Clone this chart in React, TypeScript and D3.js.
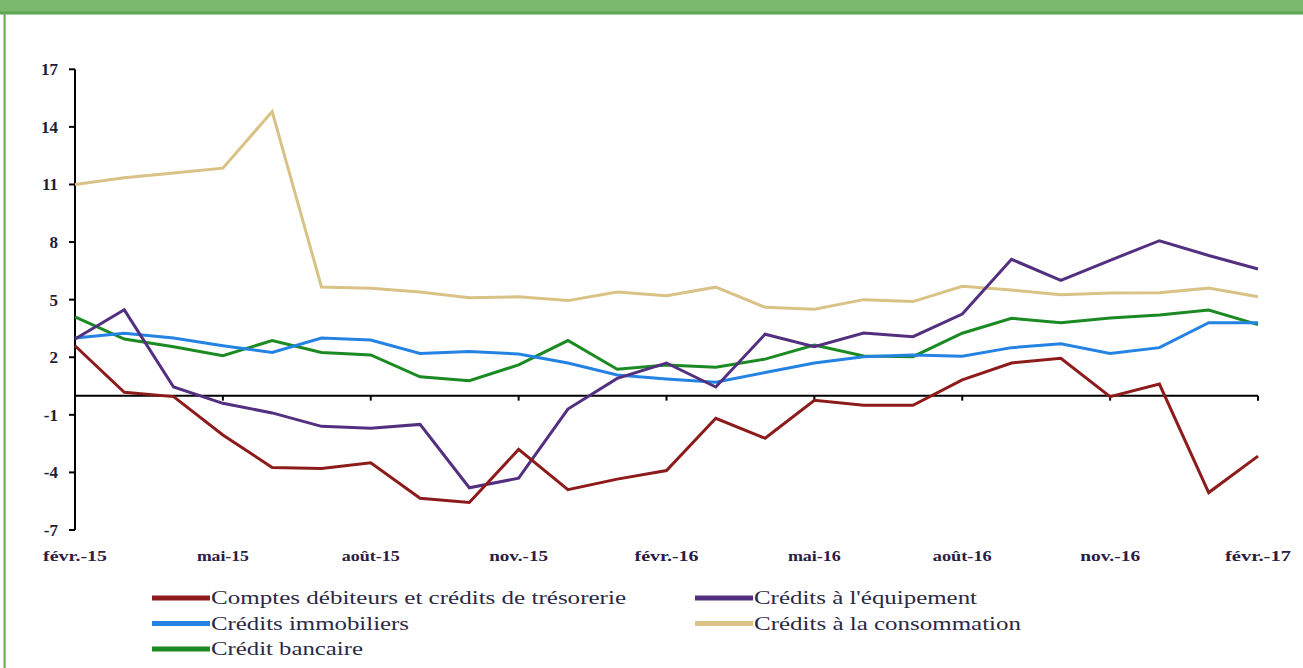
import React from "react";
import * as d3 from "d3";

const months = [
  "févr.-15","mars-15","avr.-15","mai-15","juin-15","juil.-15","août-15","sept.-15","oct.-15","nov.-15","déc.-15","janv.-16",
  "févr.-16","mars-16","avr.-16","mai-16","juin-16","juil.-16","août-16","sept.-16","oct.-16","nov.-16","déc.-16","janv.-17","févr.-17",
];
const yTicks = [-7, -4, -1, 2, 5, 8, 11, 14, 17];

const comptes = [2.6,0.17,-0.05,-2.05,-3.74,-3.8,-3.5,-5.35,-5.57,-2.8,-4.9,-4.35,-3.9,-1.18,-2.22,-0.24,-0.5,-0.5,0.82,1.7,1.95,-0.05,0.6,-5.05,-3.15];
const equipement = [2.95,4.47,0.45,-0.4,-0.9,-1.6,-1.7,-1.5,-4.8,-4.3,-0.7,0.9,1.7,0.45,3.2,2.55,3.26,3.07,4.25,7.1,6.0,7.05,8.07,7.3,6.6];
const immobiliers = [3.0,3.25,3.0,2.6,2.25,3.0,2.9,2.2,2.3,2.17,1.7,1.08,0.87,0.7,1.2,1.7,2.03,2.12,2.05,2.5,2.7,2.2,2.5,3.8,3.8];
const consommation = [11.0,11.35,11.6,11.85,14.8,5.66,5.6,5.4,5.1,5.15,4.95,5.4,5.2,5.65,4.6,4.5,5.0,4.9,5.7,5.5,5.25,5.35,5.36,5.6,5.15];
const bancaire = [4.1,2.95,2.55,2.08,2.87,2.25,2.12,0.98,0.78,1.6,2.87,1.37,1.6,1.48,1.9,2.64,2.07,2.03,3.25,4.03,3.8,4.05,4.2,4.46,3.7];

const series = [
  { name: "Comptes débiteurs et crédits de trésorerie", values: comptes, color: "#8e1b1b" },
  { name: "Crédits à l'équipement", values: equipement, color: "#53307f" },
  { name: "Crédits immobiliers", values: immobiliers, color: "#2483e2" },
  { name: "Crédits à la consommation", values: consommation, color: "#d8c286" },
  { name: "Crédit bancaire", values: bancaire, color: "#1b8a22" },
];
const drawOrder = [3, 4, 2, 1, 0];
const legendPos = [
  { col: 0, row: 0, w: 415 }, { col: 1, row: 0, w: 223 }, { col: 0, row: 1, w: 198 }, { col: 1, row: 1, w: 267 }, { col: 0, row: 2, w: 152 },
];
const monthLabelWidths: Record<string, number> = {
  "févr.-15": 64, "mai-15": 52, "août-15": 58, "nov.-15": 59, "févr.-16": 64, "mai-16": 53, "août-16": 59, "nov.-16": 60, "févr.-17": 66,
};

export default function App() {
  const W = 1303, H = 668;
  const x = d3.scaleLinear().domain([0, months.length - 1]).range([75, 1258]);
  const y = d3.scaleLinear().domain([-7, 17]).range([530, 69.3]);
  const line = d3.line<number>().x((_, i) => x(i)).y((v) => y(v));
  const font = '"Liberation Serif", "Times New Roman", Times, "DejaVu Serif", serif';
  const x0 = 75;
  const y0 = y(0);
  return (
    <svg width={W} height={H} style={{ position: "absolute", left: 0, top: 0, background: "#fff" }}>
      <rect x={0} y={0} width={W} height={H} fill="#fff" />
      <rect x={0} y={0} width={W} height={12} fill="#7bba6e" />
      <rect x={0} y={11.5} width={W} height={3} fill="#5ea452" />
      <rect x={3.5} y={13} width={2.2} height={H - 13} fill="#6cae60" />
      <line x1={x0} x2={x0} y1={y(17)} y2={y(-7)} stroke="#000" strokeWidth={2} />
      {yTicks.map((t) => (
        <g key={t}>
          <line x1={x0 - 6} x2={x0} y1={y(t)} y2={y(t)} stroke="#000" strokeWidth={2} />
          <text x={58} y={y(t)} dy="0.35em" textAnchor="end" style={{ fontFamily: font }} fontSize={17} fontWeight="bold" fill="#1e1e3c">
            {t}
          </text>
        </g>
      ))}
      <line x1={x0} x2={x(months.length - 1)} y1={y0} y2={y0} stroke="#000" strokeWidth={2} />
      {months.map((m, i) =>
        i % 3 === 0 ? (
          <g key={m}>
            <line x1={x(i)} x2={x(i)} y1={y0} y2={y0 + 5} stroke="#000" strokeWidth={2} />
            <text x={x(i)} y={556} dy="0.35em" textAnchor="middle" style={{ fontFamily: font }} fontSize={14} fontWeight="bold"
              fill="#2a2044" textLength={monthLabelWidths[m]} lengthAdjust="spacingAndGlyphs">
              {m}
            </text>
          </g>
        ) : null
      )}
      {drawOrder.map((si) => (
        <path key={si} d={line(series[si].values) || ""} fill="none" stroke={series[si].color} strokeWidth={3} strokeLinejoin="miter" />
      ))}
      {series.map((s, i) => {
        const p = legendPos[i];
        const lx = p.col === 0 ? 152 : 695;
        const ly = 598 + p.row * 25.5;
        return (
          <g key={s.name}>
            <line x1={lx} x2={lx + 58} y1={ly} y2={ly} stroke={s.color} strokeWidth={5} />
            <text x={lx + 59} y={ly} dy="0.33em" style={{ fontFamily: font }} fontSize={19} fill="#2a2a46"
              textLength={p.w} lengthAdjust="spacingAndGlyphs">
              {s.name}
            </text>
          </g>
        );
      })}
    </svg>
  );
}
